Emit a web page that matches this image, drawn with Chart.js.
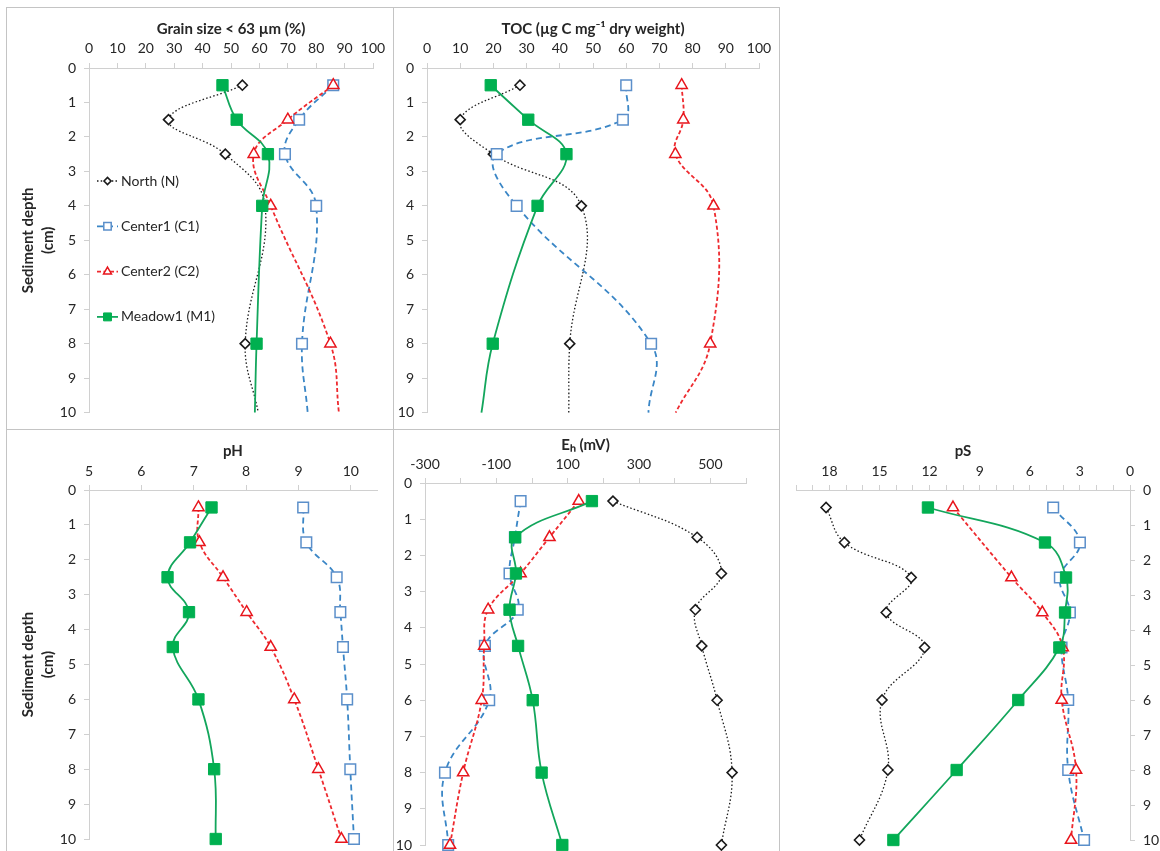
<!DOCTYPE html>
<html>
<head>
<meta charset="utf-8">
<script src="https://cdn.jsdelivr.net/npm/chart.js@4.4.1/dist/chart.umd.min.js"></script>
<style>
html, body { margin: 0; padding: 0; background: #fff; overflow: hidden; width: 1160px; height: 851px; }
canvas { position: absolute; }
.frame { position: absolute; background: #c4c4c4; }
</style>
</head>
<body>
<canvas id="grain"></canvas>
<canvas id="toc"></canvas>
<canvas id="ph"></canvas>
<canvas id="eh"></canvas>
<canvas id="ps"></canvas>
<div class="frame" style="left:6px;top:7px;width:774px;height:1px"></div>
<div class="frame" style="left:6px;top:7px;width:1px;height:844px"></div>
<div class="frame" style="left:393px;top:7px;width:1px;height:844px"></div>
<div class="frame" style="left:779px;top:7px;width:1px;height:844px"></div>
<div class="frame" style="left:6px;top:429px;width:774px;height:1px"></div>
<script>
// depths (cm) - sediment cores; the 10 cm point on core panels only carries the curve end
const depthCore = [0.5, 1.5, 2.5, 4, 8, 10];
const depthPore = [0.5, 1.5, 2.5, 3.5, 4.5, 6, 8, 10];

// Grain size < 63 um (%)
const grainNorth = [54, 28, 48, 62, 55, 59.6];
const grainCenter1 = [86, 74, 69, 80, 75, 77];
const grainCenter2 = [86, 70, 58, 64, 85, 88];
const grainMeadow1 = [47, 52, 63, 61, 59, 58.4];

// TOC (ug C mg-1 dry weight)
const tocNorth = [28, 10, 20, 46.5, 43, 42.7];
const tocCenter1 = [60, 59, 21, 27, 67.5, 66.7];
const tocCenter2 = [76.7, 77.2, 74.8, 86.3, 85.3, 74.9];
const tocMeadow1 = [19.2, 30.5, 42, 33.3, 19.8, 16.4];

// pH
const phCenter1 = [9.09, 9.15, 9.73, 9.8, 9.85, 9.93, 9.99, 10.06];
const phCenter2 = [7.09, 7.11, 7.56, 8.01, 8.47, 8.92, 9.38, 9.82];
const phMeadow1 = [7.34, 6.93, 6.5, 6.91, 6.6, 7.09, 7.39, 7.42];

// Eh (mV)
const ehNorth = [227, 463, 531, 458, 476, 519, 561, 531];
const ehCenter1 = [-32, -48, -63, -40, -132, -120, -244, -235];
const ehCenter2 = [131, 49, -32, -123, -134, -141, -193, -230];
const ehMeadow1 = [168, -47, -45, -63, -39, 2, 27, 85];

// pS
const psNorth = [18.2, 17.1, 13.1, 14.6, 12.3, 14.85, 14.5, 16.2];
const psCenter1 = [4.6, 3.0, 4.2, 3.6, 4.1, 3.7, 3.7, 2.75];
const psCenter2 = [10.6, null, 7.1, 5.25, 4.03, 4.09, 3.23, 3.53];
const psMeadow1 = [12.1, 5.09, 3.83, 3.89, 4.23, 6.69, 10.38, 14.17];

// axis ticks and labels
const depthTicks = [0, 1, 2, 3, 4, 5, 6, 7, 8, 9, 10];
const pctTicks = [0, 10, 20, 30, 40, 50, 60, 70, 80, 90, 100];
const phTicks = [5, 6, 7, 8, 9, 10];
const ehTicks = [-300, -200, -100, 0, 100, 200, 300, 400, 500, 600];
const ehLabels = [-300, -100, 100, 300, 500];
const psTicks = [0, 1, 2, 3, 4, 5, 6, 7, 8, 9, 10, 11, 12, 13, 14, 15, 16, 17, 18, 19, 20];
const psLabels = [0, 3, 6, 9, 12, 15, 18];

const FONT = 'Lato';
const axisGrey = '#d0d0d0';
const textCol = '#262626';
const TICK_SIZE = 14;
const TITLE_SIZE = 15;

const looks = {
    north: { label: 'North (N)', borderColor: '#1a1a1a', borderWidth: 1.3, borderDash: [1.5, 2.2],
        pointStyle: 'rectRot', pointRadius: 5, pointBackgroundColor: '#fff', pointBorderColor: '#1a1a1a', pointBorderWidth: 1.6, order: 4 },
    center1: { label: 'Center1 (C1)', borderColor: '#3a86c6', borderWidth: 1.8, borderDash: [6, 4],
        pointStyle: 'rect', pointRadius: 7.5, pointBackgroundColor: '#fff', pointBorderColor: '#5b8fca', pointBorderWidth: 1.5, order: 3 },
    center2: { label: 'Center2 (C2)', borderColor: '#ee2a2f', borderWidth: 1.8, borderDash: [4, 2.5],
        pointStyle: 'triangle', pointRadius: 6.5, pointBackgroundColor: '#fff', pointBorderColor: '#e8151c', pointBorderWidth: 1.5, order: 2 },
    meadow1: { label: 'Meadow1 (M1)', borderColor: '#13a65c', borderWidth: 1.8, borderDash: [],
        pointStyle: 'rect', pointRadius: 8, pointBackgroundColor: '#00b050', pointBorderColor: '#00b050', pointBorderWidth: 1, order: 1 }
};

function series(look, values, depths, hideLast) {
    const pts = [];
    values.forEach((v, i) => { if (v !== null) pts.push({ x: v, y: depths[i] }); });
    const r = look.pointRadius;
    return Object.assign({}, look, {
        data: pts,
        showLine: true,
        tension: 0.4,
        clip: false,
        pointRadius: pts.map((p, i) => (hideLast && i === pts.length - 1) ? 0 : r),
        pointHoverRadius: 0,
        legendRadius: r * 0.7
    });
}

// legend drawn inside the plot area, Excel style (line + marker + text)
const insideLegend = {
    id: 'insideLegend',
    afterDatasetsDraw(chart, args, opts) {
        if (!opts.show) return;
        const { ctx, chartArea } = chart;
        ctx.save();
        chart.data.datasets.forEach((ds, i) => {
            const x = chartArea.left + opts.left;
            const y = chartArea.top + opts.top + i * opts.gap;
            ctx.strokeStyle = ds.borderColor;
            ctx.lineWidth = ds.borderWidth;
            ctx.setLineDash(ds.borderDash);
            ctx.beginPath();
            ctx.moveTo(x, y);
            ctx.lineTo(x + 21, y);
            ctx.stroke();
            ctx.setLineDash([]);
            ctx.fillStyle = ds.pointBackgroundColor;
            ctx.strokeStyle = ds.pointBorderColor;
            ctx.lineWidth = ds.pointBorderWidth;
            Chart.helpers.drawPoint(ctx, { pointStyle: ds.pointStyle, radius: ds.legendRadius, borderWidth: ds.pointBorderWidth, rotation: 0 }, x + 10.5, y);
            ctx.fillStyle = textCol;
            ctx.font = '14px ' + FONT;
            ctx.textBaseline = 'middle';
            ctx.textAlign = 'left';
            ctx.fillText(ds.label, x + 24, y);
        });
        ctx.restore();
    }
};

function panel(p) {
    const cv = document.getElementById(p.id);
    cv.width = p.box.w;
    cv.height = p.box.h;
    cv.style.left = p.box.x + 'px';
    cv.style.top = p.box.y + 'px';

    const tl = 5;
    const titleLh = TITLE_SIZE * 1.2;
    const tickLh = TICK_SIZE * 1.2;
    const titlePadTop = p.titleY - p.box.y - titleLh / 2;
    const xH = p.area.t - p.box.y - titlePadTop - titleLh;
    const xTickPad = p.area.t - p.tickY - tl - tickLh / 2;
    const yW = p.yRight ? (p.box.x + p.box.w - p.area.r) : (p.area.l - p.box.x);
    const tickFont = { family: FONT, size: TICK_SIZE };

    new Chart(cv, {
        type: 'scatter',
        data: { datasets: p.datasets },
        options: {
            responsive: false,
            animation: false,
            events: [],
            layout: {
                padding: {
                    left: p.yRight ? p.area.l - p.box.x : 0,
                    right: p.yRight ? 0 : p.box.x + p.box.w - p.area.r,
                    top: 0,
                    bottom: p.box.y + p.box.h - p.area.b
                }
            },
            plugins: {
                legend: { display: false },
                tooltip: { enabled: false },
                title: {
                    display: true, text: p.title, color: textCol, fullSize: false,
                    font: { family: FONT, size: TITLE_SIZE, weight: 'bold', lineHeight: 1.2 },
                    padding: { top: titlePadTop, bottom: 0 }
                },
                insideLegend: p.legend || { show: false }
            },
            scales: {
                x: {
                    type: 'linear', position: 'top', bounds: 'data',
                    min: p.xMin, max: p.xMax, reverse: !!p.xReverse,
                    grid: { drawOnChartArea: false, color: axisGrey, tickLength: tl },
                    border: { color: axisGrey },
                    ticks: {
                        font: tickFont, color: textCol, padding: xTickPad, autoSkip: false, maxRotation: 0,
                        callback: v => (p.xLabels ? (p.xLabels.includes(v) ? String(v) : '') : String(v))
                    },
                    afterBuildTicks: s => { s.ticks = p.xTicks.map(v => ({ value: v })); },
                    afterFit: s => { s.height = xH; }
                },
                y: {
                    type: 'linear', position: p.yRight ? 'right' : 'left', bounds: 'data',
                    min: 0, max: 10, reverse: true,
                    grid: { drawOnChartArea: false, color: axisGrey, tickLength: tl },
                    border: { color: axisGrey },
                    ticks: { font: tickFont, color: textCol, padding: 8, autoSkip: false },
                    title: p.yTitle ? {
                        display: true, text: ['Sediment depth', '(cm)'], color: textCol,
                        font: { family: FONT, size: TITLE_SIZE, weight: 'bold', lineHeight: 1.35 },
                        padding: { top: 12, bottom: 0 }
                    } : { display: false },
                    afterBuildTicks: s => { s.ticks = depthTicks.map(v => ({ value: v })); },
                    afterFit: s => { s.width = yW; }
                }
            }
        },
        plugins: p.legend ? [insideLegend] : []
    });
}

panel({
    id: 'grain', box: { x: 6, y: 8, w: 387, h: 421 }, area: { l: 89, t: 68, r: 373, b: 416 },
    title: 'Grain size < 63 µm (%)', titleY: 29, tickY: 48,
    xMin: 0, xMax: 100, xTicks: pctTicks, yTitle: true,
    legend: { show: true, left: 8, top: 113, gap: 45.3 },
    datasets: [
        series(looks.north, grainNorth, depthCore, true),
        series(looks.center1, grainCenter1, depthCore, true),
        series(looks.center2, grainCenter2, depthCore, true),
        series(looks.meadow1, grainMeadow1, depthCore, true)
    ]
});

panel({
    id: 'toc', box: { x: 394, y: 8, w: 385, h: 421 }, area: { l: 427, t: 68, r: 759, b: 416 },
    title: 'TOC (µg C mg⁻¹ dry weight)', titleY: 29, tickY: 48,
    xMin: 0, xMax: 100, xTicks: pctTicks,
    datasets: [
        series(looks.north, tocNorth, depthCore, true),
        series(looks.center1, tocCenter1, depthCore, true),
        series(looks.center2, tocCenter2, depthCore, true),
        series(looks.meadow1, tocMeadow1, depthCore, true)
    ]
});

panel({
    id: 'ph', box: { x: 6, y: 430, w: 387, h: 440 }, area: { l: 89, t: 490, r: 377, b: 839 },
    title: 'pH', titleY: 451, tickY: 471,
    xMin: 5, xMax: 10.5, xTicks: phTicks, yTitle: true,
    datasets: [
        series(looks.center1, phCenter1, depthPore, false),
        series(looks.center2, phCenter2, depthPore, false),
        series(looks.meadow1, phMeadow1, depthPore, false)
    ]
});

panel({
    id: 'eh', box: { x: 394, y: 430, w: 385, h: 440 }, area: { l: 425, t: 483, r: 746, b: 845 },
    title: 'Eₕ (mV)', titleY: 445, tickY: 464,
    xMin: -300, xMax: 600, xTicks: ehTicks, xLabels: ehLabels,
    datasets: [
        series(looks.north, ehNorth, depthPore, false),
        series(looks.center1, ehCenter1, depthPore, false),
        series(looks.center2, ehCenter2, depthPore, false),
        series(looks.meadow1, ehMeadow1, depthPore, false)
    ]
});

panel({
    id: 'ps', box: { x: 780, y: 430, w: 380, h: 440 }, area: { l: 796, t: 490, r: 1130, b: 840 },
    title: 'pS', titleY: 451, tickY: 471,
    xMin: 0, xMax: 20, xReverse: true, xTicks: psTicks, xLabels: psLabels, yRight: true,
    datasets: [
        series(looks.north, psNorth, depthPore, false),
        series(looks.center1, psCenter1, depthPore, false),
        series(looks.center2, psCenter2, depthPore, false),
        series(looks.meadow1, psMeadow1, depthPore, false)
    ]
});
</script>
</body>
</html>
